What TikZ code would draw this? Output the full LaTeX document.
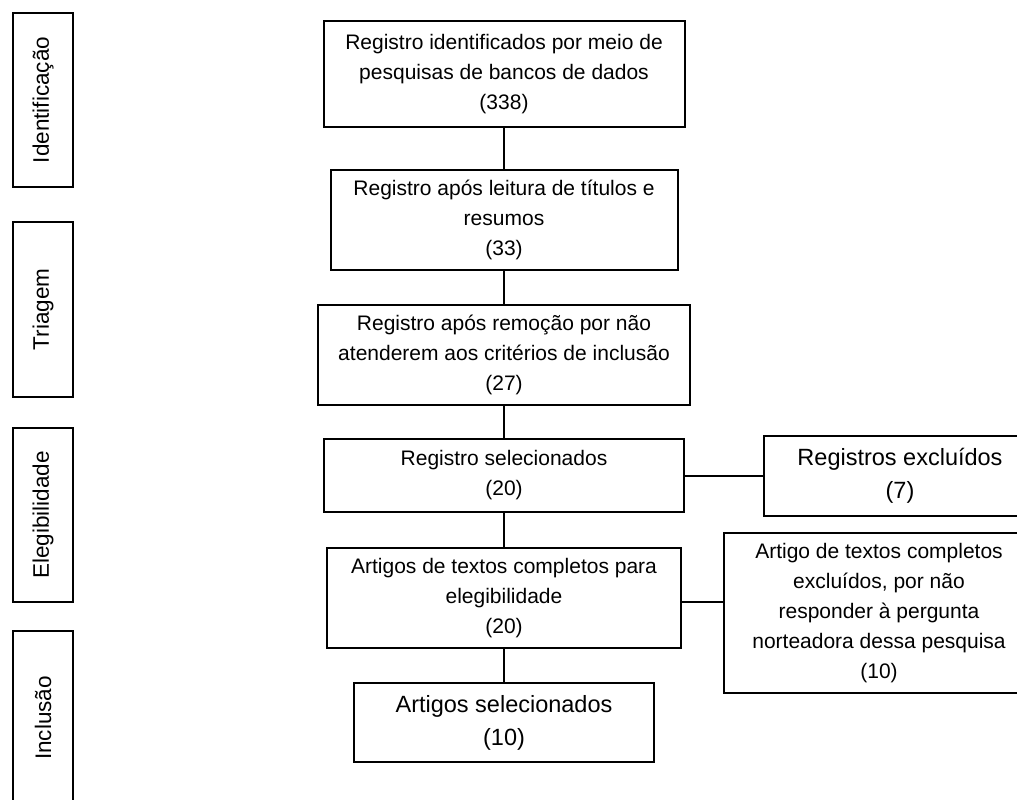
\documentclass[tikz,border=0pt]{standalone}
\usepackage{fontspec}
\setmainfont{Liberation Sans}
\usepackage{tikz}
\usetikzlibrary{positioning,calc}

\begin{document}
\begin{tikzpicture}[
  x=1pt,y=-1pt,
  font=\fontsize{21}{30}\selectfont,
  box/.style={draw,line width=2pt,align=center,inner sep=0pt},
  stage/.style={box,rotate=90,minimum height=60pt,
                font=\fontsize{22.5}{27}\selectfont},
  big/.style={font=\fontsize{23.5}{33}\selectfont},
  link/.style={line width=2pt},
]
\useasboundingbox (0,0) rectangle (1017,800);
\clip (0,0) rectangle (1017,800);
% Stages
\node[stage,minimum width=174pt] (ident) at (43,100) {Identificação};
\node[stage,minimum width=175pt] (triag) at (43,309.5) {Triagem};
\node[stage,minimum width=174pt] (eleg) at (43,515) {Elegibilidade};
\node[stage,minimum width=174pt] (incl) at (43,718) {Inclusão};
% Main column
\node[box,minimum width=361pt,minimum height=106pt] (reg) at (504,74)
  {Registro identificados por meio de\\ pesquisas de bancos de dados\\ (338)};
\node[box,minimum width=347pt,minimum height=100pt] (tit) at (504,220)
  {Registro após leitura de títulos e\\ resumos\\ (33)};
\node[box,minimum width=372pt,minimum height=100pt] (rem) at (504,355)
  {Registro após remoção por não\\ atenderem aos critérios de inclusão\\ (27)};
\node[box,minimum width=360pt,minimum height=73pt] (sel) at (504,475.5)
  {Registro selecionados\\ (20)};
\node[box,minimum width=354pt,minimum height=100pt] (full) at (504,598)
  {Artigos de textos completos para\\ elegibilidade\\ (20)};
\node[box,big,minimum width=300pt,minimum height=79pt] (art) at (504,722.5)
  {Artigos selecionados\\ (10)};
% Exclusions
\node[box,big,minimum width=272pt,minimum height=80pt] (exc) at (900,476)
  {Registros excluídos\\ (7)};
\node[box,minimum width=310pt,minimum height=160pt] (excfull) at (879,613)
  {Artigo de textos completos\\ excluídos, por não\\ responder à pergunta\\ norteadora dessa pesquisa\\ (10)};
% Connectors
\draw[link] (reg) -- (tit);
\draw[link] (tit) -- (rem);
\draw[link] (rem) -- (sel);
\draw[link] (sel) -- (full);
\draw[link] (full) -- (art);
\draw[link] (sel.east) -- (sel.east -| exc.west);
\coordinate (fullout) at ($(full.east)+(0,4)$);
\draw[link] (fullout) -- (fullout -| excfull.west);
\end{tikzpicture}
\end{document}
